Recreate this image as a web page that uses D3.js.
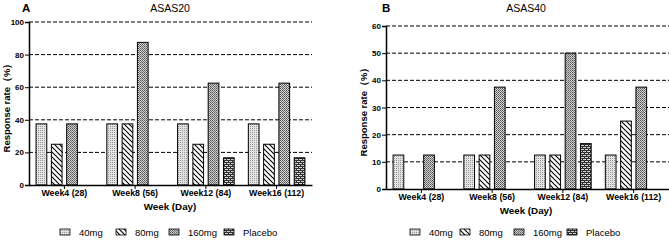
<!DOCTYPE html>
<html>
<head>
<meta charset="utf-8">
<script src="https://cdn.jsdelivr.net/npm/d3@7"></script>
<style>
  body { margin: 0; background: #fff; }
  text { font-family: "Liberation Sans", Arial, sans-serif; }
</style>
</head>
<body>
<svg id="chart" width="669" height="241"></svg>
<script>
const weeks = ["Week4 (28)", "Week8 (56)", "Week12 (84)", "Week16 (112)"];
const doses = ["40mg", "80mg", "160mg", "Placebo"];

// response rates (%) per week, one array per dose
const asas20_40mg = [37.5, 37.5, 37.5, 37.5];
const asas20_80mg = [25, 37.5, 25, 25];
const asas20_160mg = [37.5, 87.5, 62.5, 62.5];
const asas20_placebo = [0, 0, 16.7, 16.7];

const asas40_40mg = [12.5, 12.5, 12.5, 12.5];
const asas40_80mg = [0, 12.5, 12.5, 25];
const asas40_160mg = [12.5, 37.5, 50, 37.5];
const asas40_placebo = [0, 0, 16.7, 0];

const ticksA = [0, 20, 40, 60, 80, 100];
const ticksB = [0, 10, 20, 30, 40, 50, 60];

const svg = d3.select("#chart");
const defs = svg.append("defs");

// fill patterns, roughly like the prism hatches
let p = defs.append("pattern").attr("id", "p40").attr("patternUnits", "userSpaceOnUse")
  .attr("width", 2).attr("height", 2);
p.append("rect").attr("width", 2).attr("height", 2).attr("fill", "#e2e2e2");
p.append("rect").attr("width", 1).attr("height", 1).attr("fill", "#9a9a9a");

p = defs.append("pattern").attr("id", "p80").attr("patternUnits", "userSpaceOnUse")
  .attr("width", 5).attr("height", 5);
p.append("rect").attr("width", 5).attr("height", 5).attr("fill", "#fff");
p.append("path").attr("d", "M-1,-1 L6,6 M-1,4 L1,6 M4,-1 L6,1").attr("stroke", "#000").attr("stroke-width", 1.1);

p = defs.append("pattern").attr("id", "p160").attr("patternUnits", "userSpaceOnUse")
  .attr("width", 2).attr("height", 2);
p.append("rect").attr("width", 2).attr("height", 2).attr("fill", "#d0d0d0");
p.append("rect").attr("width", 1).attr("height", 1).attr("fill", "#555");
p.append("rect").attr("x", 1).attr("y", 1).attr("width", 1).attr("height", 1).attr("fill", "#777");

p = defs.append("pattern").attr("id", "pPlacebo").attr("patternUnits", "userSpaceOnUse")
  .attr("width", 4).attr("height", 4);
p.append("rect").attr("width", 4).attr("height", 4).attr("fill", "#cfcfcf");
p.append("path").attr("d", "M0,0.5 H4 M0,2.5 H4 M0.5,0 V2 M2.5,2 V4").attr("stroke", "#333").attr("stroke-width", 1);

const fills = { "40mg": "url(#p40)", "80mg": "url(#p80)", "160mg": "url(#p160)", "Placebo": "url(#pPlacebo)" };

function drawPanel(opt) {
  const g = svg.append("g");
  const series = [opt.s40, opt.s80, opt.s160, opt.sp];

  const x0 = d3.scaleBand().domain(weeks).range([opt.left, opt.right])
    .paddingInner(0.2).paddingOuter(0.1);
  const x1 = d3.scaleBand().domain(doses).range([0, x0.bandwidth()]).paddingInner(0.3);
  const y = d3.scaleLinear().domain([0, opt.max]).range([opt.bottom, opt.top]);

  // dashed gridlines
  g.selectAll(".grid").data(opt.ticks.filter(d => d > 0)).join("line")
    .attr("x1", opt.left).attr("x2", opt.right)
    .attr("y1", d => y(d)).attr("y2", d => y(d))
    .attr("stroke", "#000").attr("stroke-width", 1).attr("stroke-dasharray", "4,2");

  // bars
  weeks.forEach((w, i) => {
    doses.forEach((d, j) => {
      const v = series[j][i];
      if (!v) return;
      g.append("rect")
        .attr("x", x0(w) + x1(d))
        .attr("y", y(v))
        .attr("width", x1.bandwidth())
        .attr("height", opt.bottom - y(v))
        .attr("fill", fills[d])
        .attr("stroke", "#000").attr("stroke-width", 1);
    });
  });

  // y axis
  const ya = g.append("g").attr("transform", `translate(${opt.left},0)`)
    .call(d3.axisLeft(y).tickValues(opt.ticks).tickSize(4).tickPadding(1));
  ya.select(".domain").attr("stroke-width", 1.5);
  ya.selectAll("text").attr("font-size", 8).attr("font-weight", "bold")
    .attr("font-family", "Liberation Sans, Arial, sans-serif").attr("fill", "#000");

  // x axis
  const xa = g.append("g").attr("transform", `translate(0,${opt.bottom})`)
    .call(d3.axisBottom(x0).tickSize(4).tickPadding(1).tickSizeOuter(0));
  xa.select(".domain").attr("stroke-width", 1.5);
  xa.selectAll("text").attr("font-size", 8.8).attr("font-weight", "bold")
    .attr("font-family", "Liberation Sans, Arial, sans-serif").attr("fill", "#000");

  // labels
  g.append("text").text(opt.letter).attr("x", opt.letterX).attr("y", 12)
    .attr("font-size", 11.5).attr("font-weight", "bold");
  g.append("text").text(opt.title).attr("x", opt.titleX).attr("y", 12)
    .attr("text-anchor", "middle").attr("font-size", 10.5);
  g.append("text").text("Response rate（%）")
    .attr("transform", `translate(${opt.ylabX},${(opt.top + opt.bottom) / 2 + 2}) rotate(-90)`)
    .attr("text-anchor", "middle").attr("font-size", 9.5).attr("font-weight", "bold");
  g.append("text").text("Week (Day)").attr("x", opt.titleX).attr("y", opt.bottom + 25)
    .attr("text-anchor", "middle").attr("font-size", 9.8).attr("font-weight", "bold");

  // legend
  opt.legendX.forEach((lx, k) => {
    g.append("rect").attr("x", lx).attr("y", 229).attr("width", 10).attr("height", 6)
      .attr("fill", fills[doses[k]]).attr("stroke", "#000").attr("stroke-width", 0.8);
    g.append("text").text(doses[k]).attr("x", lx + 19).attr("y", 236)
      .attr("font-size", 9.5);
  });
}

drawPanel({
  left: 29, right: 312, top: 22, bottom: 185, max: 100, ticks: ticksA,
  s40: asas20_40mg, s80: asas20_80mg, s160: asas20_160mg, sp: asas20_placebo,
  letter: "A", letterX: 22, title: "ASAS20", titleX: 170, ylabX: 10,
  legendX: [60, 116, 169, 224]
});

drawPanel({
  left: 386, right: 669, top: 26, bottom: 189, max: 60, ticks: ticksB,
  s40: asas40_40mg, s80: asas40_80mg, s160: asas40_160mg, sp: asas40_placebo,
  letter: "B", letterX: 382, title: "ASAS40", titleX: 526, ylabX: 367,
  legendX: [410, 460, 514, 567]
});
</script>
</body>
</html>
